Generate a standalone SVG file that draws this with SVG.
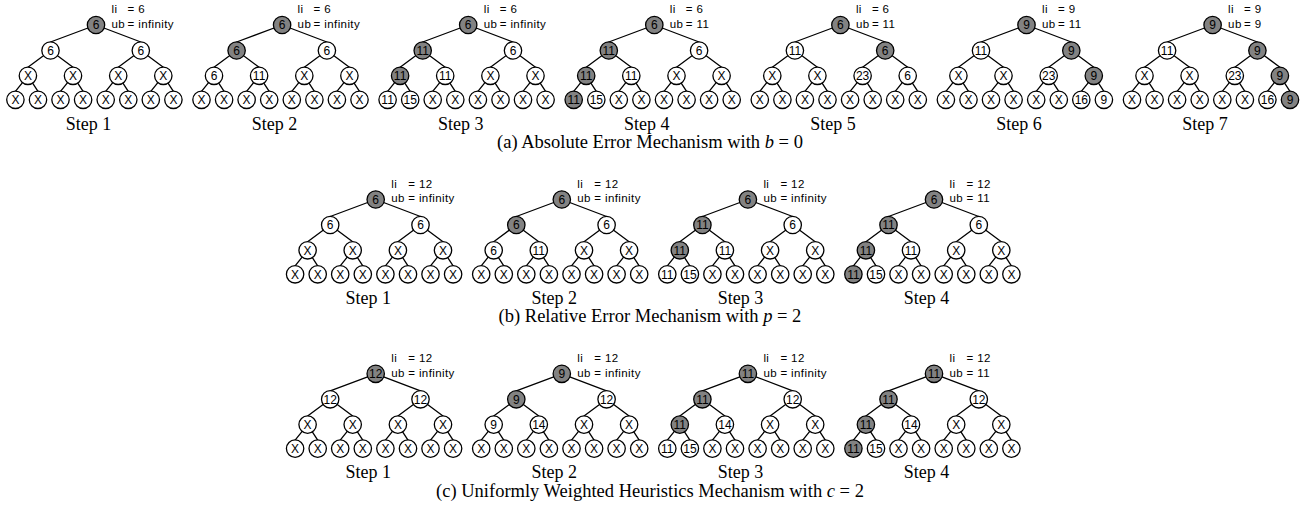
<svg xmlns="http://www.w3.org/2000/svg" width="1316" height="508" viewBox="0 0 1316 508">
<style>
.e{stroke:#000;stroke-width:1.3;fill:none}
.n circle{fill:#fff;stroke:#000;stroke-width:1.3}
.n.g circle{fill:#828282}
.n text{font-family:"Liberation Sans",Arial,sans-serif;font-size:12px;text-anchor:middle;fill:#000}
.lab{font-family:"Liberation Sans",Arial,sans-serif;font-size:11.5px;letter-spacing:0.4px;fill:#000}
.step{font-family:"Liberation Serif","Times New Roman",serif;font-size:18px;text-anchor:middle;fill:#000}
.cap{font-family:"Liberation Serif","Times New Roman",serif;font-size:18.5px;text-anchor:middle;fill:#000}
.cap .m{font-style:italic}
</style>
<defs>
<path id="edges" d="M0,0L-45.5,17M0,0L44.8,17M-45.5,25.5L-68.1,42.3M-45.5,25.5L-23,42.3M44.8,25.5L22.2,42.3M44.8,25.5L67.3,42.3M-68.1,50.8L-80.6,66.3M-68.1,50.8L-58,66.3M-23,50.8L-35.5,66.3M-23,50.8L-12.9,66.3M22.2,50.8L9.7,66.3M22.2,50.8L32.3,66.3M67.3,50.8L54.8,66.3M67.3,50.8L77.4,66.3"/>
</defs>
<rect width="1316" height="508" fill="#fff"/>
<g id="connectors" class="e">
<use href="#edges" x="96" y="25"/>
<use href="#edges" x="282.1" y="25"/>
<use href="#edges" x="468.2" y="25"/>
<use href="#edges" x="654.3" y="25"/>
<use href="#edges" x="840.4" y="25"/>
<use href="#edges" x="1026.5" y="25"/>
<use href="#edges" x="1212.6" y="25"/>
<use href="#edges" x="375.7" y="199.5"/>
<use href="#edges" x="561.8" y="199.5"/>
<use href="#edges" x="747.9" y="199.5"/>
<use href="#edges" x="934" y="199.5"/>
<use href="#edges" x="375.7" y="373.8"/>
<use href="#edges" x="561.8" y="373.8"/>
<use href="#edges" x="747.9" y="373.8"/>
<use href="#edges" x="934" y="373.8"/>
</g>

<!-- Row a, step 1 -->
<g id="tree-a1" transform="translate(96,25)">
<g id="a1-r" class="n g"><circle r="8.7"/><text y="4.3">6</text></g>
<g id="a1-a" class="n" transform="translate(-45.5,25.5)"><circle r="8.7"/><text y="4.3">6</text></g>
<g id="a1-b" class="n" transform="translate(44.8,25.5)"><circle r="8.7"/><text y="4.3">6</text></g>
<g id="a1-c0" class="n" transform="translate(-68.1,50.8)"><circle r="8.7"/><text y="4.3">X</text></g>
<g id="a1-c1" class="n" transform="translate(-23,50.8)"><circle r="8.7"/><text y="4.3">X</text></g>
<g id="a1-c2" class="n" transform="translate(22.2,50.8)"><circle r="8.7"/><text y="4.3">X</text></g>
<g id="a1-c3" class="n" transform="translate(67.3,50.8)"><circle r="8.7"/><text y="4.3">X</text></g>
<g id="a1-d0" class="n" transform="translate(-80.6,74.8)"><circle r="8.7"/><text y="4.3">X</text></g>
<g id="a1-d1" class="n" transform="translate(-58,74.8)"><circle r="8.7"/><text y="4.3">X</text></g>
<g id="a1-d2" class="n" transform="translate(-35.5,74.8)"><circle r="8.7"/><text y="4.3">X</text></g>
<g id="a1-d3" class="n" transform="translate(-12.9,74.8)"><circle r="8.7"/><text y="4.3">X</text></g>
<g id="a1-d4" class="n" transform="translate(9.7,74.8)"><circle r="8.7"/><text y="4.3">X</text></g>
<g id="a1-d5" class="n" transform="translate(32.3,74.8)"><circle r="8.7"/><text y="4.3">X</text></g>
<g id="a1-d6" class="n" transform="translate(54.8,74.8)"><circle r="8.7"/><text y="4.3">X</text></g>
<g id="a1-d7" class="n" transform="translate(77.4,74.8)"><circle r="8.7"/><text y="4.3">X</text></g>
<text class="lab" x="15.5" y="-11.7">li</text><text class="lab" x="31.5" y="-11.7">= 6</text>
<text class="lab" x="15.5" y="2.7">ub</text><text class="lab" x="31.5" y="2.7">= infinity</text>
<text class="step" x="-7.5" y="104.5">Step 1</text>
</g>

<!-- Row a, step 2 -->
<g id="tree-a2" transform="translate(282.1,25)">
<g id="a2-r" class="n g"><circle r="8.7"/><text y="4.3">6</text></g>
<g id="a2-a" class="n g" transform="translate(-45.5,25.5)"><circle r="8.7"/><text y="4.3">6</text></g>
<g id="a2-b" class="n" transform="translate(44.8,25.5)"><circle r="8.7"/><text y="4.3">6</text></g>
<g id="a2-c0" class="n" transform="translate(-68.1,50.8)"><circle r="8.7"/><text y="4.3">6</text></g>
<g id="a2-c1" class="n" transform="translate(-23,50.8)"><circle r="8.7"/><text y="4.3">11</text></g>
<g id="a2-c2" class="n" transform="translate(22.2,50.8)"><circle r="8.7"/><text y="4.3">X</text></g>
<g id="a2-c3" class="n" transform="translate(67.3,50.8)"><circle r="8.7"/><text y="4.3">X</text></g>
<g id="a2-d0" class="n" transform="translate(-80.6,74.8)"><circle r="8.7"/><text y="4.3">X</text></g>
<g id="a2-d1" class="n" transform="translate(-58,74.8)"><circle r="8.7"/><text y="4.3">X</text></g>
<g id="a2-d2" class="n" transform="translate(-35.5,74.8)"><circle r="8.7"/><text y="4.3">X</text></g>
<g id="a2-d3" class="n" transform="translate(-12.9,74.8)"><circle r="8.7"/><text y="4.3">X</text></g>
<g id="a2-d4" class="n" transform="translate(9.7,74.8)"><circle r="8.7"/><text y="4.3">X</text></g>
<g id="a2-d5" class="n" transform="translate(32.3,74.8)"><circle r="8.7"/><text y="4.3">X</text></g>
<g id="a2-d6" class="n" transform="translate(54.8,74.8)"><circle r="8.7"/><text y="4.3">X</text></g>
<g id="a2-d7" class="n" transform="translate(77.4,74.8)"><circle r="8.7"/><text y="4.3">X</text></g>
<text class="lab" x="15.5" y="-11.7">li</text><text class="lab" x="31.5" y="-11.7">= 6</text>
<text class="lab" x="15.5" y="2.7">ub</text><text class="lab" x="31.5" y="2.7">= infinity</text>
<text class="step" x="-7.5" y="104.5">Step 2</text>
</g>

<!-- Row a, step 3 -->
<g id="tree-a3" transform="translate(468.2,25)">
<g id="a3-r" class="n g"><circle r="8.7"/><text y="4.3">6</text></g>
<g id="a3-a" class="n g" transform="translate(-45.5,25.5)"><circle r="8.7"/><text y="4.3">11</text></g>
<g id="a3-b" class="n" transform="translate(44.8,25.5)"><circle r="8.7"/><text y="4.3">6</text></g>
<g id="a3-c0" class="n g" transform="translate(-68.1,50.8)"><circle r="8.7"/><text y="4.3">11</text></g>
<g id="a3-c1" class="n" transform="translate(-23,50.8)"><circle r="8.7"/><text y="4.3">11</text></g>
<g id="a3-c2" class="n" transform="translate(22.2,50.8)"><circle r="8.7"/><text y="4.3">X</text></g>
<g id="a3-c3" class="n" transform="translate(67.3,50.8)"><circle r="8.7"/><text y="4.3">X</text></g>
<g id="a3-d0" class="n" transform="translate(-80.6,74.8)"><circle r="8.7"/><text y="4.3">11</text></g>
<g id="a3-d1" class="n" transform="translate(-58,74.8)"><circle r="8.7"/><text y="4.3">15</text></g>
<g id="a3-d2" class="n" transform="translate(-35.5,74.8)"><circle r="8.7"/><text y="4.3">X</text></g>
<g id="a3-d3" class="n" transform="translate(-12.9,74.8)"><circle r="8.7"/><text y="4.3">X</text></g>
<g id="a3-d4" class="n" transform="translate(9.7,74.8)"><circle r="8.7"/><text y="4.3">X</text></g>
<g id="a3-d5" class="n" transform="translate(32.3,74.8)"><circle r="8.7"/><text y="4.3">X</text></g>
<g id="a3-d6" class="n" transform="translate(54.8,74.8)"><circle r="8.7"/><text y="4.3">X</text></g>
<g id="a3-d7" class="n" transform="translate(77.4,74.8)"><circle r="8.7"/><text y="4.3">X</text></g>
<text class="lab" x="15.5" y="-11.7">li</text><text class="lab" x="31.5" y="-11.7">= 6</text>
<text class="lab" x="15.5" y="2.7">ub</text><text class="lab" x="31.5" y="2.7">= infinity</text>
<text class="step" x="-7.5" y="104.5">Step 3</text>
</g>

<!-- Row a, step 4 -->
<g id="tree-a4" transform="translate(654.3,25)">
<g id="a4-r" class="n g"><circle r="8.7"/><text y="4.3">6</text></g>
<g id="a4-a" class="n g" transform="translate(-45.5,25.5)"><circle r="8.7"/><text y="4.3">11</text></g>
<g id="a4-b" class="n" transform="translate(44.8,25.5)"><circle r="8.7"/><text y="4.3">6</text></g>
<g id="a4-c0" class="n g" transform="translate(-68.1,50.8)"><circle r="8.7"/><text y="4.3">11</text></g>
<g id="a4-c1" class="n" transform="translate(-23,50.8)"><circle r="8.7"/><text y="4.3">11</text></g>
<g id="a4-c2" class="n" transform="translate(22.2,50.8)"><circle r="8.7"/><text y="4.3">X</text></g>
<g id="a4-c3" class="n" transform="translate(67.3,50.8)"><circle r="8.7"/><text y="4.3">X</text></g>
<g id="a4-d0" class="n g" transform="translate(-80.6,74.8)"><circle r="8.7"/><text y="4.3">11</text></g>
<g id="a4-d1" class="n" transform="translate(-58,74.8)"><circle r="8.7"/><text y="4.3">15</text></g>
<g id="a4-d2" class="n" transform="translate(-35.5,74.8)"><circle r="8.7"/><text y="4.3">X</text></g>
<g id="a4-d3" class="n" transform="translate(-12.9,74.8)"><circle r="8.7"/><text y="4.3">X</text></g>
<g id="a4-d4" class="n" transform="translate(9.7,74.8)"><circle r="8.7"/><text y="4.3">X</text></g>
<g id="a4-d5" class="n" transform="translate(32.3,74.8)"><circle r="8.7"/><text y="4.3">X</text></g>
<g id="a4-d6" class="n" transform="translate(54.8,74.8)"><circle r="8.7"/><text y="4.3">X</text></g>
<g id="a4-d7" class="n" transform="translate(77.4,74.8)"><circle r="8.7"/><text y="4.3">X</text></g>
<text class="lab" x="15.5" y="-11.7">li</text><text class="lab" x="31.5" y="-11.7">= 6</text>
<text class="lab" x="15.5" y="2.7">ub</text><text class="lab" x="31.5" y="2.7">= 11</text>
<text class="step" x="-7.5" y="104.5">Step 4</text>
</g>

<!-- Row a, step 5 -->
<g id="tree-a5" transform="translate(840.4,25)">
<g id="a5-r" class="n g"><circle r="8.7"/><text y="4.3">6</text></g>
<g id="a5-a" class="n" transform="translate(-45.5,25.5)"><circle r="8.7"/><text y="4.3">11</text></g>
<g id="a5-b" class="n g" transform="translate(44.8,25.5)"><circle r="8.7"/><text y="4.3">6</text></g>
<g id="a5-c0" class="n" transform="translate(-68.1,50.8)"><circle r="8.7"/><text y="4.3">X</text></g>
<g id="a5-c1" class="n" transform="translate(-23,50.8)"><circle r="8.7"/><text y="4.3">X</text></g>
<g id="a5-c2" class="n" transform="translate(22.2,50.8)"><circle r="8.7"/><text y="4.3">23</text></g>
<g id="a5-c3" class="n" transform="translate(67.3,50.8)"><circle r="8.7"/><text y="4.3">6</text></g>
<g id="a5-d0" class="n" transform="translate(-80.6,74.8)"><circle r="8.7"/><text y="4.3">X</text></g>
<g id="a5-d1" class="n" transform="translate(-58,74.8)"><circle r="8.7"/><text y="4.3">X</text></g>
<g id="a5-d2" class="n" transform="translate(-35.5,74.8)"><circle r="8.7"/><text y="4.3">X</text></g>
<g id="a5-d3" class="n" transform="translate(-12.9,74.8)"><circle r="8.7"/><text y="4.3">X</text></g>
<g id="a5-d4" class="n" transform="translate(9.7,74.8)"><circle r="8.7"/><text y="4.3">X</text></g>
<g id="a5-d5" class="n" transform="translate(32.3,74.8)"><circle r="8.7"/><text y="4.3">X</text></g>
<g id="a5-d6" class="n" transform="translate(54.8,74.8)"><circle r="8.7"/><text y="4.3">X</text></g>
<g id="a5-d7" class="n" transform="translate(77.4,74.8)"><circle r="8.7"/><text y="4.3">X</text></g>
<text class="lab" x="15.5" y="-11.7">li</text><text class="lab" x="31.5" y="-11.7">= 6</text>
<text class="lab" x="15.5" y="2.7">ub</text><text class="lab" x="31.5" y="2.7">= 11</text>
<text class="step" x="-7.5" y="104.5">Step 5</text>
</g>

<!-- Row a, step 6 -->
<g id="tree-a6" transform="translate(1026.5,25)">
<g id="a6-r" class="n g"><circle r="8.7"/><text y="4.3">9</text></g>
<g id="a6-a" class="n" transform="translate(-45.5,25.5)"><circle r="8.7"/><text y="4.3">11</text></g>
<g id="a6-b" class="n g" transform="translate(44.8,25.5)"><circle r="8.7"/><text y="4.3">9</text></g>
<g id="a6-c0" class="n" transform="translate(-68.1,50.8)"><circle r="8.7"/><text y="4.3">X</text></g>
<g id="a6-c1" class="n" transform="translate(-23,50.8)"><circle r="8.7"/><text y="4.3">X</text></g>
<g id="a6-c2" class="n" transform="translate(22.2,50.8)"><circle r="8.7"/><text y="4.3">23</text></g>
<g id="a6-c3" class="n g" transform="translate(67.3,50.8)"><circle r="8.7"/><text y="4.3">9</text></g>
<g id="a6-d0" class="n" transform="translate(-80.6,74.8)"><circle r="8.7"/><text y="4.3">X</text></g>
<g id="a6-d1" class="n" transform="translate(-58,74.8)"><circle r="8.7"/><text y="4.3">X</text></g>
<g id="a6-d2" class="n" transform="translate(-35.5,74.8)"><circle r="8.7"/><text y="4.3">X</text></g>
<g id="a6-d3" class="n" transform="translate(-12.9,74.8)"><circle r="8.7"/><text y="4.3">X</text></g>
<g id="a6-d4" class="n" transform="translate(9.7,74.8)"><circle r="8.7"/><text y="4.3">X</text></g>
<g id="a6-d5" class="n" transform="translate(32.3,74.8)"><circle r="8.7"/><text y="4.3">X</text></g>
<g id="a6-d6" class="n" transform="translate(54.8,74.8)"><circle r="8.7"/><text y="4.3">16</text></g>
<g id="a6-d7" class="n" transform="translate(77.4,74.8)"><circle r="8.7"/><text y="4.3">9</text></g>
<text class="lab" x="15.5" y="-11.7">li</text><text class="lab" x="31.5" y="-11.7">= 9</text>
<text class="lab" x="15.5" y="2.7">ub</text><text class="lab" x="31.5" y="2.7">= 11</text>
<text class="step" x="-7.5" y="104.5">Step 6</text>
</g>

<!-- Row a, step 7 -->
<g id="tree-a7" transform="translate(1212.6,25)">
<g id="a7-r" class="n g"><circle r="8.7"/><text y="4.3">9</text></g>
<g id="a7-a" class="n" transform="translate(-45.5,25.5)"><circle r="8.7"/><text y="4.3">11</text></g>
<g id="a7-b" class="n g" transform="translate(44.8,25.5)"><circle r="8.7"/><text y="4.3">9</text></g>
<g id="a7-c0" class="n" transform="translate(-68.1,50.8)"><circle r="8.7"/><text y="4.3">X</text></g>
<g id="a7-c1" class="n" transform="translate(-23,50.8)"><circle r="8.7"/><text y="4.3">X</text></g>
<g id="a7-c2" class="n" transform="translate(22.2,50.8)"><circle r="8.7"/><text y="4.3">23</text></g>
<g id="a7-c3" class="n g" transform="translate(67.3,50.8)"><circle r="8.7"/><text y="4.3">9</text></g>
<g id="a7-d0" class="n" transform="translate(-80.6,74.8)"><circle r="8.7"/><text y="4.3">X</text></g>
<g id="a7-d1" class="n" transform="translate(-58,74.8)"><circle r="8.7"/><text y="4.3">X</text></g>
<g id="a7-d2" class="n" transform="translate(-35.5,74.8)"><circle r="8.7"/><text y="4.3">X</text></g>
<g id="a7-d3" class="n" transform="translate(-12.9,74.8)"><circle r="8.7"/><text y="4.3">X</text></g>
<g id="a7-d4" class="n" transform="translate(9.7,74.8)"><circle r="8.7"/><text y="4.3">X</text></g>
<g id="a7-d5" class="n" transform="translate(32.3,74.8)"><circle r="8.7"/><text y="4.3">X</text></g>
<g id="a7-d6" class="n" transform="translate(54.8,74.8)"><circle r="8.7"/><text y="4.3">16</text></g>
<g id="a7-d7" class="n g" transform="translate(77.4,74.8)"><circle r="8.7"/><text y="4.3">9</text></g>
<text class="lab" x="15.5" y="-11.7">li</text><text class="lab" x="31.5" y="-11.7">= 9</text>
<text class="lab" x="15.5" y="2.7">ub</text><text class="lab" x="31.5" y="2.7">= 9</text>
<text class="step" x="-7.5" y="104.5">Step 7</text>
</g>

<!-- Row b, step 1 -->
<g id="tree-b1" transform="translate(375.7,199.5)">
<g id="b1-r" class="n g"><circle r="8.7"/><text y="4.3">6</text></g>
<g id="b1-a" class="n" transform="translate(-45.5,25.5)"><circle r="8.7"/><text y="4.3">6</text></g>
<g id="b1-b" class="n" transform="translate(44.8,25.5)"><circle r="8.7"/><text y="4.3">6</text></g>
<g id="b1-c0" class="n" transform="translate(-68.1,50.8)"><circle r="8.7"/><text y="4.3">X</text></g>
<g id="b1-c1" class="n" transform="translate(-23,50.8)"><circle r="8.7"/><text y="4.3">X</text></g>
<g id="b1-c2" class="n" transform="translate(22.2,50.8)"><circle r="8.7"/><text y="4.3">X</text></g>
<g id="b1-c3" class="n" transform="translate(67.3,50.8)"><circle r="8.7"/><text y="4.3">X</text></g>
<g id="b1-d0" class="n" transform="translate(-80.6,74.8)"><circle r="8.7"/><text y="4.3">X</text></g>
<g id="b1-d1" class="n" transform="translate(-58,74.8)"><circle r="8.7"/><text y="4.3">X</text></g>
<g id="b1-d2" class="n" transform="translate(-35.5,74.8)"><circle r="8.7"/><text y="4.3">X</text></g>
<g id="b1-d3" class="n" transform="translate(-12.9,74.8)"><circle r="8.7"/><text y="4.3">X</text></g>
<g id="b1-d4" class="n" transform="translate(9.7,74.8)"><circle r="8.7"/><text y="4.3">X</text></g>
<g id="b1-d5" class="n" transform="translate(32.3,74.8)"><circle r="8.7"/><text y="4.3">X</text></g>
<g id="b1-d6" class="n" transform="translate(54.8,74.8)"><circle r="8.7"/><text y="4.3">X</text></g>
<g id="b1-d7" class="n" transform="translate(77.4,74.8)"><circle r="8.7"/><text y="4.3">X</text></g>
<text class="lab" x="15.5" y="-11.7">li</text><text class="lab" x="32.5" y="-11.7">= 12</text>
<text class="lab" x="15.5" y="2.7">ub</text><text class="lab" x="32.5" y="2.7">= infinity</text>
<text class="step" x="-7.5" y="104.5">Step 1</text>
</g>

<!-- Row b, step 2 -->
<g id="tree-b2" transform="translate(561.8,199.5)">
<g id="b2-r" class="n g"><circle r="8.7"/><text y="4.3">6</text></g>
<g id="b2-a" class="n g" transform="translate(-45.5,25.5)"><circle r="8.7"/><text y="4.3">6</text></g>
<g id="b2-b" class="n" transform="translate(44.8,25.5)"><circle r="8.7"/><text y="4.3">6</text></g>
<g id="b2-c0" class="n" transform="translate(-68.1,50.8)"><circle r="8.7"/><text y="4.3">6</text></g>
<g id="b2-c1" class="n" transform="translate(-23,50.8)"><circle r="8.7"/><text y="4.3">11</text></g>
<g id="b2-c2" class="n" transform="translate(22.2,50.8)"><circle r="8.7"/><text y="4.3">X</text></g>
<g id="b2-c3" class="n" transform="translate(67.3,50.8)"><circle r="8.7"/><text y="4.3">X</text></g>
<g id="b2-d0" class="n" transform="translate(-80.6,74.8)"><circle r="8.7"/><text y="4.3">X</text></g>
<g id="b2-d1" class="n" transform="translate(-58,74.8)"><circle r="8.7"/><text y="4.3">X</text></g>
<g id="b2-d2" class="n" transform="translate(-35.5,74.8)"><circle r="8.7"/><text y="4.3">X</text></g>
<g id="b2-d3" class="n" transform="translate(-12.9,74.8)"><circle r="8.7"/><text y="4.3">X</text></g>
<g id="b2-d4" class="n" transform="translate(9.7,74.8)"><circle r="8.7"/><text y="4.3">X</text></g>
<g id="b2-d5" class="n" transform="translate(32.3,74.8)"><circle r="8.7"/><text y="4.3">X</text></g>
<g id="b2-d6" class="n" transform="translate(54.8,74.8)"><circle r="8.7"/><text y="4.3">X</text></g>
<g id="b2-d7" class="n" transform="translate(77.4,74.8)"><circle r="8.7"/><text y="4.3">X</text></g>
<text class="lab" x="15.5" y="-11.7">li</text><text class="lab" x="32.5" y="-11.7">= 12</text>
<text class="lab" x="15.5" y="2.7">ub</text><text class="lab" x="32.5" y="2.7">= infinity</text>
<text class="step" x="-7.5" y="104.5">Step 2</text>
</g>

<!-- Row b, step 3 -->
<g id="tree-b3" transform="translate(747.9,199.5)">
<g id="b3-r" class="n g"><circle r="8.7"/><text y="4.3">6</text></g>
<g id="b3-a" class="n g" transform="translate(-45.5,25.5)"><circle r="8.7"/><text y="4.3">11</text></g>
<g id="b3-b" class="n" transform="translate(44.8,25.5)"><circle r="8.7"/><text y="4.3">6</text></g>
<g id="b3-c0" class="n g" transform="translate(-68.1,50.8)"><circle r="8.7"/><text y="4.3">11</text></g>
<g id="b3-c1" class="n" transform="translate(-23,50.8)"><circle r="8.7"/><text y="4.3">11</text></g>
<g id="b3-c2" class="n" transform="translate(22.2,50.8)"><circle r="8.7"/><text y="4.3">X</text></g>
<g id="b3-c3" class="n" transform="translate(67.3,50.8)"><circle r="8.7"/><text y="4.3">X</text></g>
<g id="b3-d0" class="n" transform="translate(-80.6,74.8)"><circle r="8.7"/><text y="4.3">11</text></g>
<g id="b3-d1" class="n" transform="translate(-58,74.8)"><circle r="8.7"/><text y="4.3">15</text></g>
<g id="b3-d2" class="n" transform="translate(-35.5,74.8)"><circle r="8.7"/><text y="4.3">X</text></g>
<g id="b3-d3" class="n" transform="translate(-12.9,74.8)"><circle r="8.7"/><text y="4.3">X</text></g>
<g id="b3-d4" class="n" transform="translate(9.7,74.8)"><circle r="8.7"/><text y="4.3">X</text></g>
<g id="b3-d5" class="n" transform="translate(32.3,74.8)"><circle r="8.7"/><text y="4.3">X</text></g>
<g id="b3-d6" class="n" transform="translate(54.8,74.8)"><circle r="8.7"/><text y="4.3">X</text></g>
<g id="b3-d7" class="n" transform="translate(77.4,74.8)"><circle r="8.7"/><text y="4.3">X</text></g>
<text class="lab" x="15.5" y="-11.7">li</text><text class="lab" x="32.5" y="-11.7">= 12</text>
<text class="lab" x="15.5" y="2.7">ub</text><text class="lab" x="32.5" y="2.7">= infinity</text>
<text class="step" x="-7.5" y="104.5">Step 3</text>
</g>

<!-- Row b, step 4 -->
<g id="tree-b4" transform="translate(934,199.5)">
<g id="b4-r" class="n g"><circle r="8.7"/><text y="4.3">6</text></g>
<g id="b4-a" class="n g" transform="translate(-45.5,25.5)"><circle r="8.7"/><text y="4.3">11</text></g>
<g id="b4-b" class="n" transform="translate(44.8,25.5)"><circle r="8.7"/><text y="4.3">6</text></g>
<g id="b4-c0" class="n g" transform="translate(-68.1,50.8)"><circle r="8.7"/><text y="4.3">11</text></g>
<g id="b4-c1" class="n" transform="translate(-23,50.8)"><circle r="8.7"/><text y="4.3">11</text></g>
<g id="b4-c2" class="n" transform="translate(22.2,50.8)"><circle r="8.7"/><text y="4.3">X</text></g>
<g id="b4-c3" class="n" transform="translate(67.3,50.8)"><circle r="8.7"/><text y="4.3">X</text></g>
<g id="b4-d0" class="n g" transform="translate(-80.6,74.8)"><circle r="8.7"/><text y="4.3">11</text></g>
<g id="b4-d1" class="n" transform="translate(-58,74.8)"><circle r="8.7"/><text y="4.3">15</text></g>
<g id="b4-d2" class="n" transform="translate(-35.5,74.8)"><circle r="8.7"/><text y="4.3">X</text></g>
<g id="b4-d3" class="n" transform="translate(-12.9,74.8)"><circle r="8.7"/><text y="4.3">X</text></g>
<g id="b4-d4" class="n" transform="translate(9.7,74.8)"><circle r="8.7"/><text y="4.3">X</text></g>
<g id="b4-d5" class="n" transform="translate(32.3,74.8)"><circle r="8.7"/><text y="4.3">X</text></g>
<g id="b4-d6" class="n" transform="translate(54.8,74.8)"><circle r="8.7"/><text y="4.3">X</text></g>
<g id="b4-d7" class="n" transform="translate(77.4,74.8)"><circle r="8.7"/><text y="4.3">X</text></g>
<text class="lab" x="15.5" y="-11.7">li</text><text class="lab" x="32.5" y="-11.7">= 12</text>
<text class="lab" x="15.5" y="2.7">ub</text><text class="lab" x="32.5" y="2.7">= 11</text>
<text class="step" x="-7.5" y="104.5">Step 4</text>
</g>

<!-- Row c, step 1 -->
<g id="tree-c1" transform="translate(375.7,373.8)">
<g id="c1-r" class="n g"><circle r="8.7"/><text y="4.3">12</text></g>
<g id="c1-a" class="n" transform="translate(-45.5,25.5)"><circle r="8.7"/><text y="4.3">12</text></g>
<g id="c1-b" class="n" transform="translate(44.8,25.5)"><circle r="8.7"/><text y="4.3">12</text></g>
<g id="c1-c0" class="n" transform="translate(-68.1,50.8)"><circle r="8.7"/><text y="4.3">X</text></g>
<g id="c1-c1" class="n" transform="translate(-23,50.8)"><circle r="8.7"/><text y="4.3">X</text></g>
<g id="c1-c2" class="n" transform="translate(22.2,50.8)"><circle r="8.7"/><text y="4.3">X</text></g>
<g id="c1-c3" class="n" transform="translate(67.3,50.8)"><circle r="8.7"/><text y="4.3">X</text></g>
<g id="c1-d0" class="n" transform="translate(-80.6,74.8)"><circle r="8.7"/><text y="4.3">X</text></g>
<g id="c1-d1" class="n" transform="translate(-58,74.8)"><circle r="8.7"/><text y="4.3">X</text></g>
<g id="c1-d2" class="n" transform="translate(-35.5,74.8)"><circle r="8.7"/><text y="4.3">X</text></g>
<g id="c1-d3" class="n" transform="translate(-12.9,74.8)"><circle r="8.7"/><text y="4.3">X</text></g>
<g id="c1-d4" class="n" transform="translate(9.7,74.8)"><circle r="8.7"/><text y="4.3">X</text></g>
<g id="c1-d5" class="n" transform="translate(32.3,74.8)"><circle r="8.7"/><text y="4.3">X</text></g>
<g id="c1-d6" class="n" transform="translate(54.8,74.8)"><circle r="8.7"/><text y="4.3">X</text></g>
<g id="c1-d7" class="n" transform="translate(77.4,74.8)"><circle r="8.7"/><text y="4.3">X</text></g>
<text class="lab" x="15.5" y="-11.7">li</text><text class="lab" x="32.5" y="-11.7">= 12</text>
<text class="lab" x="15.5" y="2.7">ub</text><text class="lab" x="32.5" y="2.7">= infinity</text>
<text class="step" x="-7.5" y="104.5">Step 1</text>
</g>

<!-- Row c, step 2 -->
<g id="tree-c2" transform="translate(561.8,373.8)">
<g id="c2-r" class="n g"><circle r="8.7"/><text y="4.3">9</text></g>
<g id="c2-a" class="n g" transform="translate(-45.5,25.5)"><circle r="8.7"/><text y="4.3">9</text></g>
<g id="c2-b" class="n" transform="translate(44.8,25.5)"><circle r="8.7"/><text y="4.3">12</text></g>
<g id="c2-c0" class="n" transform="translate(-68.1,50.8)"><circle r="8.7"/><text y="4.3">9</text></g>
<g id="c2-c1" class="n" transform="translate(-23,50.8)"><circle r="8.7"/><text y="4.3">14</text></g>
<g id="c2-c2" class="n" transform="translate(22.2,50.8)"><circle r="8.7"/><text y="4.3">X</text></g>
<g id="c2-c3" class="n" transform="translate(67.3,50.8)"><circle r="8.7"/><text y="4.3">X</text></g>
<g id="c2-d0" class="n" transform="translate(-80.6,74.8)"><circle r="8.7"/><text y="4.3">X</text></g>
<g id="c2-d1" class="n" transform="translate(-58,74.8)"><circle r="8.7"/><text y="4.3">X</text></g>
<g id="c2-d2" class="n" transform="translate(-35.5,74.8)"><circle r="8.7"/><text y="4.3">X</text></g>
<g id="c2-d3" class="n" transform="translate(-12.9,74.8)"><circle r="8.7"/><text y="4.3">X</text></g>
<g id="c2-d4" class="n" transform="translate(9.7,74.8)"><circle r="8.7"/><text y="4.3">X</text></g>
<g id="c2-d5" class="n" transform="translate(32.3,74.8)"><circle r="8.7"/><text y="4.3">X</text></g>
<g id="c2-d6" class="n" transform="translate(54.8,74.8)"><circle r="8.7"/><text y="4.3">X</text></g>
<g id="c2-d7" class="n" transform="translate(77.4,74.8)"><circle r="8.7"/><text y="4.3">X</text></g>
<text class="lab" x="15.5" y="-11.7">li</text><text class="lab" x="32.5" y="-11.7">= 12</text>
<text class="lab" x="15.5" y="2.7">ub</text><text class="lab" x="32.5" y="2.7">= infinity</text>
<text class="step" x="-7.5" y="104.5">Step 2</text>
</g>

<!-- Row c, step 3 -->
<g id="tree-c3" transform="translate(747.9,373.8)">
<g id="c3-r" class="n g"><circle r="8.7"/><text y="4.3">11</text></g>
<g id="c3-a" class="n g" transform="translate(-45.5,25.5)"><circle r="8.7"/><text y="4.3">11</text></g>
<g id="c3-b" class="n" transform="translate(44.8,25.5)"><circle r="8.7"/><text y="4.3">12</text></g>
<g id="c3-c0" class="n g" transform="translate(-68.1,50.8)"><circle r="8.7"/><text y="4.3">11</text></g>
<g id="c3-c1" class="n" transform="translate(-23,50.8)"><circle r="8.7"/><text y="4.3">14</text></g>
<g id="c3-c2" class="n" transform="translate(22.2,50.8)"><circle r="8.7"/><text y="4.3">X</text></g>
<g id="c3-c3" class="n" transform="translate(67.3,50.8)"><circle r="8.7"/><text y="4.3">X</text></g>
<g id="c3-d0" class="n" transform="translate(-80.6,74.8)"><circle r="8.7"/><text y="4.3">11</text></g>
<g id="c3-d1" class="n" transform="translate(-58,74.8)"><circle r="8.7"/><text y="4.3">15</text></g>
<g id="c3-d2" class="n" transform="translate(-35.5,74.8)"><circle r="8.7"/><text y="4.3">X</text></g>
<g id="c3-d3" class="n" transform="translate(-12.9,74.8)"><circle r="8.7"/><text y="4.3">X</text></g>
<g id="c3-d4" class="n" transform="translate(9.7,74.8)"><circle r="8.7"/><text y="4.3">X</text></g>
<g id="c3-d5" class="n" transform="translate(32.3,74.8)"><circle r="8.7"/><text y="4.3">X</text></g>
<g id="c3-d6" class="n" transform="translate(54.8,74.8)"><circle r="8.7"/><text y="4.3">X</text></g>
<g id="c3-d7" class="n" transform="translate(77.4,74.8)"><circle r="8.7"/><text y="4.3">X</text></g>
<text class="lab" x="15.5" y="-11.7">li</text><text class="lab" x="32.5" y="-11.7">= 12</text>
<text class="lab" x="15.5" y="2.7">ub</text><text class="lab" x="32.5" y="2.7">= infinity</text>
<text class="step" x="-7.5" y="104.5">Step 3</text>
</g>

<!-- Row c, step 4 -->
<g id="tree-c4" transform="translate(934,373.8)">
<g id="c4-r" class="n g"><circle r="8.7"/><text y="4.3">11</text></g>
<g id="c4-a" class="n g" transform="translate(-45.5,25.5)"><circle r="8.7"/><text y="4.3">11</text></g>
<g id="c4-b" class="n" transform="translate(44.8,25.5)"><circle r="8.7"/><text y="4.3">12</text></g>
<g id="c4-c0" class="n g" transform="translate(-68.1,50.8)"><circle r="8.7"/><text y="4.3">11</text></g>
<g id="c4-c1" class="n" transform="translate(-23,50.8)"><circle r="8.7"/><text y="4.3">14</text></g>
<g id="c4-c2" class="n" transform="translate(22.2,50.8)"><circle r="8.7"/><text y="4.3">X</text></g>
<g id="c4-c3" class="n" transform="translate(67.3,50.8)"><circle r="8.7"/><text y="4.3">X</text></g>
<g id="c4-d0" class="n g" transform="translate(-80.6,74.8)"><circle r="8.7"/><text y="4.3">11</text></g>
<g id="c4-d1" class="n" transform="translate(-58,74.8)"><circle r="8.7"/><text y="4.3">15</text></g>
<g id="c4-d2" class="n" transform="translate(-35.5,74.8)"><circle r="8.7"/><text y="4.3">X</text></g>
<g id="c4-d3" class="n" transform="translate(-12.9,74.8)"><circle r="8.7"/><text y="4.3">X</text></g>
<g id="c4-d4" class="n" transform="translate(9.7,74.8)"><circle r="8.7"/><text y="4.3">X</text></g>
<g id="c4-d5" class="n" transform="translate(32.3,74.8)"><circle r="8.7"/><text y="4.3">X</text></g>
<g id="c4-d6" class="n" transform="translate(54.8,74.8)"><circle r="8.7"/><text y="4.3">X</text></g>
<g id="c4-d7" class="n" transform="translate(77.4,74.8)"><circle r="8.7"/><text y="4.3">X</text></g>
<text class="lab" x="15.5" y="-11.7">li</text><text class="lab" x="32.5" y="-11.7">= 12</text>
<text class="lab" x="15.5" y="2.7">ub</text><text class="lab" x="32.5" y="2.7">= 11</text>
<text class="step" x="-7.5" y="104.5">Step 4</text>
</g>

<g id="captions">
<text class="cap" x="650" y="148.3">(a) Absolute Error Mechanism with <tspan class="m">b</tspan> = 0</text>
<text class="cap" x="650" y="322.3">(b) Relative Error Mechanism with <tspan class="m">p</tspan> = 2</text>
<text class="cap" x="650" y="496.6">(c) Uniformly Weighted Heuristics Mechanism with <tspan class="m">c</tspan> = 2</text>
</g>
</svg>
